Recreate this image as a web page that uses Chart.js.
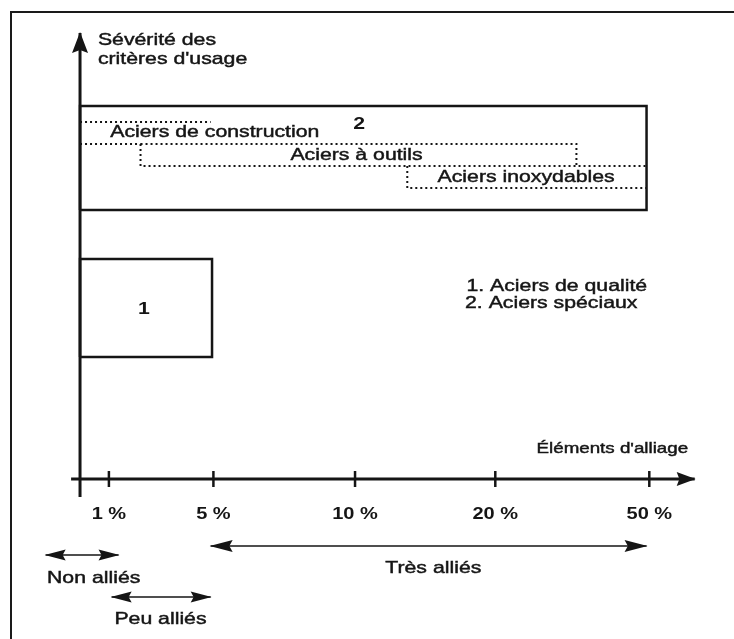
<!DOCTYPE html>
<html lang="fr">
<head>
<meta charset="utf-8">
<title>Classification des aciers</title>
<script src="https://cdn.jsdelivr.net/npm/chart.js@4.4.1/dist/chart.umd.min.js"></script>
<style>
  html, body { margin: 0; padding: 0; background: #fff; overflow: hidden; }
  #frame {
    position: absolute; left: 10px; top: 11px; width: 740px; height: 640px;
    border-left: 2px solid #1a1a1a; border-top: 2px solid #1a1a1a;
  }
  #wrap { position: absolute; left: 0; top: 0; width: 734px; height: 639px; }
</style>
</head>
<body>
<div id="frame"></div>
<div id="wrap"><canvas id="steel-chart"></canvas></div>
<script>
// x: alloy content along the axis (origin 0, ticks at their drawn spots)
// y: severity of use (x axis at 0, range arrows below it)
const tickPos = [0.21, 0.97, 2, 3.02, 4.14];
const tickLabels = ['1 %', '5 %', '10 %', '20 %', '50 %'];

const yTitleLines = ['Sévérité des', "critères d'usage"];
const xTitle = "Éléments d'alliage";
const familyNames = ['Aciers de construction', 'Aciers à outils', 'Aciers inoxydables'];
const legendLines = ['1. Aciers de qualité', '2. Aciers spéciaux'];
const rangeNames = ['Non alliés', 'Peu alliés', 'Très alliés'];

// boxes: [x0, x1, y0, y1]
const boxQualite = [0, 0.96, 1.22, 2.2];
const boxSpeciaux = [0, 4.12, 2.69, 3.73];

// dotted outlines of the steel families (null = break in the line)
const constructionX = [0, 0.95, 0, 0, 0.44];
const constructionY = [3.57, 3.57, null, 3.35, 3.35];
const outilsX = [0.44, 3.61, 3.61, 3.61, 0.44, 0.44, 4.12];
const outilsY = [3.35, 3.35, 3.13, null, 3.35, 3.13, 3.13];
const inoxX = [2.38, 2.38, 4.12];
const inoxY = [3.13, 2.91, 2.91];

// axes
const yAxisX = [0, 0];
const yAxisY = [-0.18, 4.46];
const xAxisX = [-0.065, 4.47];
const xAxisY = [0, 0];

// alloy ranges under the axis
const nonAlliesX = [-0.25, 0.28];
const nonAlliesY = [-0.76, -0.76];
const peuAlliesX = [0.23, 0.95];
const peuAlliesY = [-1.18, -1.18];
const tresAlliesX = [0.95, 4.12];
const tresAlliesY = [-0.67, -0.67];

const INK = '#151515';
const STRETCH = 1.25;
const FONT = '"Liberation Sans", Arial, sans-serif';

function points(xs, ys) {
  return xs.map((v, i) => ({ x: v, y: ys[i] }));
}

function path(xs, ys, extra) {
  return Object.assign({
    type: 'line',
    data: points(xs, ys),
    borderColor: INK,
    borderWidth: 2.5,
    pointRadius: 0,
    fill: false,
    spanGaps: false,
    borderJoinStyle: 'miter',
  }, extra);
}

function box([x0, x1, y0, y1]) {
  return path([x0, x1, x1, x0, x0], [y0, y0, y1, y1, y0]);
}

const dotted = { borderWidth: 2, borderDash: [2, 3], borderCapStyle: 'butt' };

const datasets = [
  box(boxSpeciaux),
  box(boxQualite),
  path(constructionX, constructionY, dotted),
  path(outilsX, outilsY, dotted),
  path(inoxX, inoxY, dotted),
  path(yAxisX, yAxisY, { borderWidth: 3, arrow: 'end', head: [20, 8] }),
  path(xAxisX, xAxisY, { borderWidth: 3, arrow: 'end', head: [18, 7] }),
  path(nonAlliesX, nonAlliesY, { borderWidth: 1.5, arrow: 'both', head: [20, 5.5] }),
  path(peuAlliesX, peuAlliesY, { borderWidth: 1.5, arrow: 'both', head: [20, 5.5] }),
  path(tresAlliesX, tresAlliesY, { borderWidth: 1.5, arrow: 'both', head: [22, 6] }),
  {
    type: 'scatter',
    data: tickPos.map((v) => ({ x: v, y: 0 })),
    pointStyle: 'line',
    rotation: 90,
    pointRadius: 8,
    pointBorderWidth: 2.5,
    pointBorderColor: INK,
    showLine: false,
  },
];

// text anchors: [text, x, y, align, size, weight]
const labels = [
  [yTitleLines[0], 0.13, 4.34, 'left', 17, 'normal'],
  [yTitleLines[1], 0.13, 4.15, 'left', 17, 'normal'],
  [xTitle, 3.32, 0.26, 'left', 15, 'normal'],
  ['2', 2.03, 3.5, 'center', 17, 'bold'],
  ['1', 0.465, 1.65, 'center', 17, 'bold'],
  [familyNames[0], 0.22, 3.42, 'left', 17, 'normal'],
  [familyNames[1], 1.53, 3.19, 'left', 17, 'normal'],
  [familyNames[2], 2.6, 2.97, 'left', 17, 'normal'],
  [legendLines[0], 2.81, 1.88, 'left', 17, 'normal'],
  [legendLines[1], 2.8, 1.71, 'left', 17, 'normal'],
  [rangeNames[0], -0.24, -1.04, 'left', 17, 'normal'],
  [rangeNames[1], 0.25, -1.45, 'left', 17, 'normal'],
  [rangeNames[2], 2.22, -0.94, 'left', 17, 'normal'],
];
tickPos.forEach((v, i) => labels.push([tickLabels[i], v, -0.4, 'center', 16, 'bold']));

function arrowHead(ctx, tip, from, len, half) {
  const ang = Math.atan2(tip.y - from.y, tip.x - from.x);
  ctx.save();
  ctx.translate(tip.x, tip.y);
  ctx.rotate(ang);
  ctx.beginPath();
  ctx.moveTo(1, 0);
  ctx.lineTo(-len, -half);
  ctx.lineTo(-len * 0.85, 0);
  ctx.lineTo(-len, half);
  ctx.closePath();
  ctx.fillStyle = INK;
  ctx.fill();
  ctx.restore();
}

const decorations = {
  id: 'decorations',
  afterDatasetsDraw(chart) {
    const { ctx, scales: { x, y } } = chart;

    chart.data.datasets.forEach((ds, i) => {
      if (!ds.arrow) return;
      const pts = chart.getDatasetMeta(i).data;
      const first = pts[0];
      const last = pts[pts.length - 1];
      const [len, half] = ds.head;
      arrowHead(ctx, last, first, len, half);
      if (ds.arrow === 'both') arrowHead(ctx, first, last, len, half);
    });

    ctx.save();
    ctx.fillStyle = INK;
    ctx.strokeStyle = INK;
    ctx.lineWidth = 0.45;
    ctx.textBaseline = 'alphabetic';
    labels.forEach(([text, lx, ly, align, size, weight]) => {
      ctx.save();
      ctx.font = `${weight} ${size}px ${FONT}`;
      ctx.textAlign = align;
      ctx.translate(x.getPixelForValue(lx), y.getPixelForValue(ly));
      ctx.scale(STRETCH, 1);
      ctx.fillText(text, 0, 0);
      if (weight === 'normal') ctx.strokeText(text, 0, 0);
      ctx.restore();
    });
    ctx.restore();
  },
};

new Chart(document.getElementById('steel-chart'), {
  data: { datasets },
  options: {
    responsive: true,
    maintainAspectRatio: false,
    animation: false,
    layout: { padding: 0, autoPadding: false },
    plugins: { legend: { display: false }, tooltip: { enabled: false } },
    scales: {
      x: { type: 'linear', min: -0.582, max: 4.756, display: false },
      y: { type: 'linear', min: -1.6, max: 4.79, display: false },
    },
  },
  plugins: [decorations],
});
</script>
</body>
</html>
